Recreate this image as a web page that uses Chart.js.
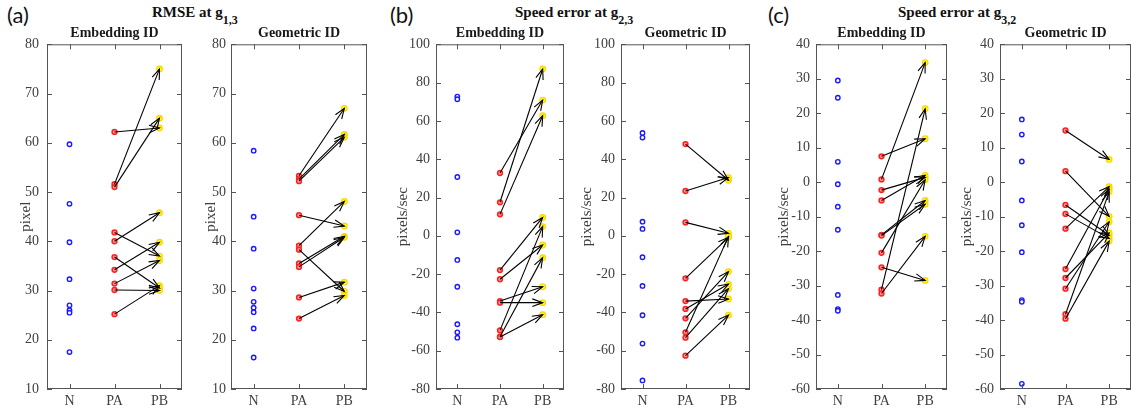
<!DOCTYPE html>
<html>
<head>
<meta charset="utf-8">
<script src="https://cdn.jsdelivr.net/npm/chart.js@4.4.1/dist/chart.umd.min.js"></script>
<style>
  body { margin: 0; background: #fff; width: 1131px; height: 412px; overflow: hidden; position: relative; }
  canvas { position: absolute; top: 0; }
  .tag { position: absolute; top: 1px; font: 22px Lato, sans-serif; color: #111; }
  .ttl { position: absolute; top: 3px; font: bold 15px/18px "Liberation Serif", serif; color: #111; white-space: nowrap; }
  .ttl sub { font-size: 12px; vertical-align: -7px; }
</style>
</head>
<body>
<div class="tag" style="left:7px">(a)</div>
<div class="ttl" style="left:152px">RMSE at g<sub>1,3</sub></div>
<div class="tag" style="left:390px">(b)</div>
<div class="ttl" style="left:515px">Speed error at g<sub>2,3</sub></div>
<div class="tag" style="left:768px">(c)</div>
<div class="ttl" style="left:898px">Speed error at g<sub>3,2</sub></div>

<script>
// categories and tick values
const xCats = ['N', 'PA', 'PB'];
const ticksRmse = [10, 20, 30, 40, 50, 60, 70, 80];
const ticksSpeed23 = [-80, -60, -40, -20, 0, 20, 40, 60, 80, 100];
const ticksSpeed32 = [-60, -50, -40, -30, -20, -10, 0, 10, 20, 30, 40];

// (a) RMSE at g1,3  -- PA[i] moves to PB[i]
const rmseEmbN  = [59.7, 47.6, 39.8, 32.3, 27.0, 26.0, 25.5, 17.5];
const rmseEmbPA = [62.2, 51.6, 51.0, 41.8, 40.0, 36.8, 34.2, 31.4, 30.1, 25.2];
const rmseEmbPB = [63.0, 75.0, 65.0, 37.0, 45.8, 30.5, 39.8, 36.1, 30.0, 31.0];

const rmseGeoN  = [58.4, 45.0, 38.5, 30.4, 27.7, 26.5, 25.6, 22.3, 16.4];
const rmseGeoPA = [53.3, 52.6, 52.2, 45.3, 39.1, 38.3, 35.5, 34.8, 28.6, 24.3];
const rmseGeoPB = [67.0, 61.7, 61.1, 43.1, 48.1, 29.8, 41.0, 40.8, 31.7, 29.0];

// (b) speed error at g2,3
const sp23EmbN  = [72.7, 71.3, 30.7, 1.8, -12.6, -26.6, -46.2, -50.4, -53.2];
const sp23EmbPA = [32.8, 17.5, 11.2, -17.9, -22.7, -34.1, -34.9, -49.4, -52.7, -52.9];
const sp23EmbPB = [70.9, 87.1, 62.7, 9.6, -4.8, -26.6, -34.9, 4.8, -11.4, -41.2];

const sp23GeoN  = [53.7, 51.3, 7.4, 3.6, -11.2, -26.2, -41.5, -56.3, -75.5];
const sp23GeoPA = [47.9, 23.4, 7.0, -22.2, -34.1, -38.2, -43.1, -50.4, -53.2, -62.6];
const sp23GeoPB = [29.0, 30.4, 1.3, -0.8, -33.0, -25.2, -18.7, -0.3, -27.6, -41.4];

// (c) speed error at g3,2
const sp32EmbN  = [29.5, 24.5, 5.9, -0.6, -7.1, -13.8, -32.7, -36.8, -37.3];
const sp32EmbPA = [7.5, 0.8, -2.3, -5.3, -15.3, -15.5, -20.5, -24.7, -31.2, -32.3];
const sp32EmbPB = [12.6, 34.7, 1.4, 2.0, -5.3, -6.4, 0.7, -28.5, 21.3, -15.7];

const sp32GeoN  = [18.2, 13.8, 6.0, -5.3, -12.5, -20.3, -34.2, -34.7, -58.5];
const sp32GeoPA = [15.0, 3.2, -6.6, -9.2, -13.5, -25.2, -27.8, -30.9, -38.3, -39.6];
const sp32GeoPB = [6.6, -9.9, -15.4, -16.3, -1.3, -2.0, -14.7, -11.5, -2.8, -17.1];

// one entry per axes: plot box left/right in page pixels
const panels = [
  { left: 47,  right: 182,  title: 'Embedding ID', ylab: 'pixel',      yt: ticksRmse,    tickPad: 8, labPad: 17, n: rmseEmbN, pa: rmseEmbPA, pb: rmseEmbPB },
  { left: 231, right: 367,  title: 'Geometric ID', ylab: 'pixel',      yt: ticksRmse,    tickPad: 5, labPad: 18, n: rmseGeoN, pa: rmseGeoPA, pb: rmseGeoPB },
  { left: 436, right: 564,  title: 'Embedding ID', ylab: 'pixels/sec', yt: ticksSpeed23, tickPad: 6, labPad: 5,  n: sp23EmbN, pa: sp23EmbPA, pb: sp23EmbPB },
  { left: 621, right: 750,  title: 'Geometric ID', ylab: 'pixels/sec', yt: ticksSpeed23, tickPad: 6, labPad: 4,  n: sp23GeoN, pa: sp23GeoPA, pb: sp23GeoPB },
  { left: 816, right: 947,  title: 'Embedding ID', ylab: 'pixels/sec', yt: ticksSpeed32, tickPad: 6, labPad: 6,  n: sp32EmbN, pa: sp32EmbPA, pb: sp32EmbPB },
  { left: 1000, right: 1131, title: 'Geometric ID', ylab: 'pixels/sec', yt: ticksSpeed32, tickPad: 6, labPad: 5, n: sp32GeoN, pa: sp32GeoPA, pb: sp32GeoPB }
];

const AXW = 47;      // room for y ticks + label
const PADR = 6;
const serif = '"Liberation Serif", serif';
Chart.defaults.font.family = serif;

// matlab-like box, inward ticks and open arrowheads
const boxPlugin = {
  id: 'boxTicks',
  afterDraw(chart) {
    const { ctx, chartArea: a, scales: { x, y } } = chart;
    ctx.save();
    ctx.strokeStyle = '#000';
    ctx.lineWidth = 1.1;
    const L = 11, h = 20 * Math.PI / 180;
    chart.data.datasets.forEach(ds => {
      if (!ds.arrow) return;
      const x0 = x.getPixelForValue(ds.data[0].x), y0 = y.getPixelForValue(ds.data[0].y);
      const x1 = x.getPixelForValue(ds.data[1].x), y1 = y.getPixelForValue(ds.data[1].y);
      const ang = Math.atan2(y1 - y0, x1 - x0);
      ctx.beginPath();
      ctx.moveTo(x1 - L * Math.cos(ang - h), y1 - L * Math.sin(ang - h));
      ctx.lineTo(x1, y1);
      ctx.lineTo(x1 - L * Math.cos(ang + h), y1 - L * Math.sin(ang + h));
      ctx.stroke();
    });

    ctx.strokeStyle = '#555';
    ctx.lineWidth = 1;
    ctx.strokeRect(a.left + 0.5, a.top + 0.5, a.width - 1, a.height - 1);
    const tl = 5;
    ctx.beginPath();
    y.ticks.forEach(t => {
      const py = Math.round(y.getPixelForValue(t.value)) + 0.5;
      ctx.moveTo(a.left, py); ctx.lineTo(a.left + tl, py);
      ctx.moveTo(a.right, py); ctx.lineTo(a.right - tl, py);
    });
    x.ticks.forEach(t => {
      const px = Math.round(x.getPixelForValue(t.value)) + 0.5;
      ctx.moveTo(px, a.bottom); ctx.lineTo(px, a.bottom - tl);
      ctx.moveTo(px, a.top); ctx.lineTo(px, a.top + tl);
    });
    ctx.stroke();
    ctx.restore();
  }
};

panels.forEach(p => {
  const cv = document.createElement('canvas');
  cv.width = AXW + (p.right - p.left) + PADR;
  cv.height = 412;
  cv.style.left = (p.left - AXW) + 'px';
  document.body.appendChild(cv);

  const datasets = [];
  p.pa.forEach((v, i) => {
    datasets.push({
      arrow: true,
      data: [{ x: 2, y: v }, { x: 3, y: p.pb[i] }],
      showLine: true,
      borderColor: '#000',
      borderWidth: 1.1,
      pointRadius: 0,
      order: 0
    });
  });
  datasets.push({
    label: 'N',
    data: p.n.map(v => ({ x: 1, y: v })),
    pointRadius: 2.2,
    borderWidth: 1.4,
    borderColor: '#1a1aff',
    backgroundColor: '#fff',
    order: 1
  });
  datasets.push({
    label: 'PA',
    data: p.pa.map(v => ({ x: 2, y: v })),
    pointRadius: 2.4,
    borderWidth: 1.5,
    borderColor: '#ff2020',
    backgroundColor: '#ff9a9a',
    order: 1
  });
  datasets.push({
    label: 'PB',
    data: p.pb.map(v => ({ x: 3, y: v })),
    pointRadius: 2.8,
    borderWidth: 1.2,
    borderColor: '#ffd400',
    backgroundColor: '#ffff20',
    order: 1
  });

  new Chart(cv, {
    type: 'scatter',
    data: { datasets },
    plugins: [boxPlugin],
    options: {
      responsive: false,
      animation: false,
      events: [],
      layout: { padding: { left: 0, right: PADR, top: 0, bottom: 0 } },
      plugins: {
        legend: { display: false },
        tooltip: { enabled: false },
        title: {
          display: true,
          fullSize: false,
          text: p.title,
          color: '#1a1a1a',
          font: { family: serif, size: 14, weight: 'bold' },
          padding: { top: 25.3, bottom: 2.2 }
        }
      },
      scales: {
        x: {
          type: 'linear',
          min: 0.5,
          max: 3.5,
          grid: { display: false, drawTicks: false },
          border: { display: false },
          afterBuildTicks: s => { s.ticks = xCats.map((c, i) => ({ value: i + 1 })); },
          afterFit: s => { s.height = 23; },
          ticks: {
            callback: v => xCats[v - 1],
            padding: 4,
            maxRotation: 0,
            autoSkip: false,
            color: '#404040',
            font: { family: serif, size: 14 }
          }
        },
        y: {
          min: p.yt[0],
          max: p.yt[p.yt.length - 1],
          grid: { display: false, drawTicks: false },
          border: { display: false },
          afterBuildTicks: s => { s.ticks = p.yt.map(v => ({ value: v })); },
          afterFit: s => { s.width = AXW; },
          ticks: { padding: p.tickPad, color: '#404040', font: { family: serif, size: 14 } },
          title: {
            display: true,
            text: p.ylab,
            color: '#404040',
            font: { family: serif, size: 15 },
            padding: { top: p.labPad, bottom: 0 }
          }
        }
      }
    }
  });
});
</script>
</body>
</html>
